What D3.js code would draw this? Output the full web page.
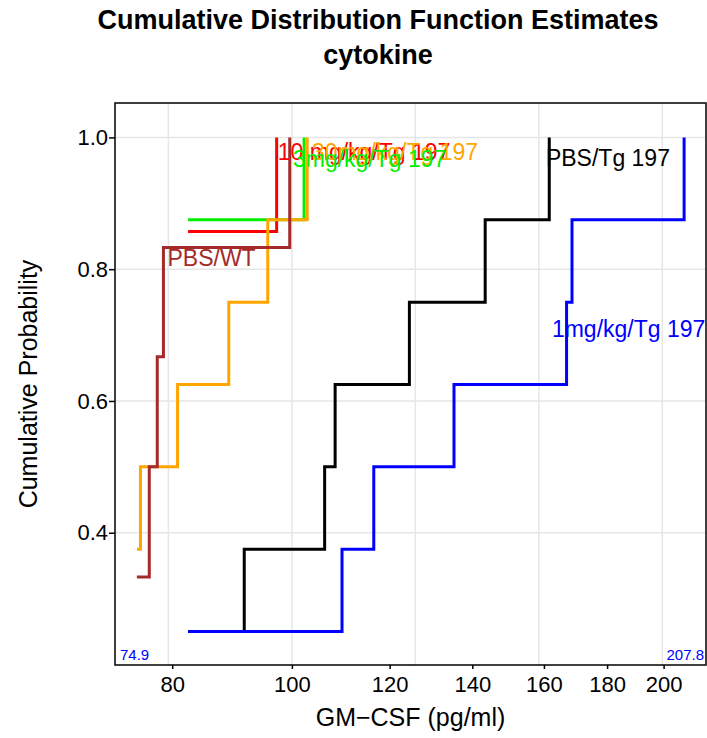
<!DOCTYPE html>
<html>
<head>
<meta charset="utf-8">
<script src="https://cdn.jsdelivr.net/npm/d3@7"></script>
<style>
  body { margin: 0; background: #fff; }
  svg { display: block; font-family: "Liberation Sans", Arial, sans-serif; }
</style>
</head>
<body>
<svg id="chart"></svg>
<script>
// Data (GM-CSF in pg/ml, cumulative probability)
const groups = ["PBS/Tg 197", "1mg/kg/Tg 197", "3mg/kg/Tg 197", "10 mg/kg/Tg 197", "30mg/kg/Tg 197", "PBS/WT"];
const colors = ["black", "blue", "#00ee00", "red", "orange", "brown"];

const pbsTgX = [82.4, 91.5, 106.3, 108.4, 124.5, 143.4, 161.6];
const pbsTgP = [0.25, 0.375, 0.5, 0.625, 0.75, 0.875, 1.0];
const mg1X = [82.4, 109.8, 116.5, 135.3, 166.9, 168.6, 207.8];
const mg1P = [0.25, 0.375, 0.5, 0.625, 0.75, 0.875, 1.0];
const mg3X = [82.4, 102.3];
const mg3P = [0.875, 1.0];
const mg10X = [82.4, 97.2];
const mg10P = [0.857, 1.0];
const mg30X = [74.9, 75.4, 80.8, 88.9, 95.6, 102.9];
const mg30P = [0.375, 0.5, 0.625, 0.75, 0.875, 1.0];
const pbsWtX = [74.9, 76.65, 77.8, 78.7, 99.6];
const pbsWtP = [0.333, 0.5, 0.667, 0.833, 1.0];

const xTicks = [80, 100, 120, 140, 160, 180, 200];
const yTicks = [0.4, 0.6, 0.8, 1.0];
const xRange = [74.9, 207.8];

// label anchors (data units) for each curve label
const labelX = [160.6, 162.4, 100.2, 97.4, 103.8, 79.3];
const labelY = [0.956, 0.697, 0.955, 0.966, 0.966, 0.805];

const seriesX = [pbsTgX, mg1X, mg3X, mg10X, mg30X, pbsWtX];
const seriesP = [pbsTgP, mg1P, mg3P, mg10P, mg30P, pbsWtP];

// Chart dimensions
const Width = 707, Height = 738;
const mLeft = 115, mRight = 706, mTop = 103, mBottom = 665;

const svg = d3.select("#chart").attr("width", Width).attr("height", Height);

// log axis padded 4% like R
const lo = Math.log10(xRange[0]), hi = Math.log10(xRange[1]);
const pad = (hi - lo) * 0.04;
const xScale = d3.scaleLog()
  .domain([Math.pow(10, lo - pad), Math.pow(10, hi + pad)])
  .range([mLeft, mRight]);

const yScale = d3.scaleLinear()
  .domain([0.1993, 1.0522])
  .range([mBottom, mTop]);

// grid
const gridX = [1.9, 2.0, 2.1, 2.2, 2.3].map(e => Math.pow(10, e));
svg.append("g").selectAll("line")
  .data(gridX).enter().append("line")
  .attr("x1", d => xScale(d)).attr("x2", d => xScale(d))
  .attr("y1", mTop).attr("y2", mBottom)
  .attr("stroke", "#e6e6e6").attr("stroke-width", 1.5);
svg.append("g").selectAll("line")
  .data(yTicks).enter().append("line")
  .attr("x1", mLeft).attr("x2", mRight)
  .attr("y1", d => yScale(d)).attr("y2", d => yScale(d))
  .attr("stroke", "#e6e6e6").attr("stroke-width", 1.5);

// step curves
const line = d3.line()
  .x(d => xScale(d[0]))
  .y(d => yScale(d[1]))
  .curve(d3.curveStepAfter);

groups.forEach((g, i) => {
  const pts = seriesX[i].map((x, j) => [x, seriesP[i][j]]);
  svg.append("path")
    .datum(pts)
    .attr("d", line)
    .attr("fill", "none")
    .attr("stroke", colors[i])
    .attr("stroke-width", 3);
});

// curve labels (they overlap in the original too)
const labelOrder = [0, 1, 3, 4, 2, 5];
labelOrder.forEach(i => {
  svg.append("text")
    .attr("x", xScale(labelX[i]))
    .attr("y", yScale(labelY[i]))
    .attr("fill", colors[i])
    .attr("font-size", 23)
    .text(groups[i]);
});

// range labels in the corners
svg.append("text")
  .attr("x", mLeft + 5).attr("y", mBottom - 5)
  .attr("fill", "blue").attr("font-size", 15)
  .text(xRange[0].toFixed(1));
svg.append("text")
  .attr("x", mRight - 2).attr("y", mBottom - 5)
  .attr("text-anchor", "end")
  .attr("fill", "blue").attr("font-size", 15)
  .text(xRange[1].toFixed(1));

// axes
const xAxis = d3.axisBottom(xScale)
  .tickValues(xTicks)
  .tickFormat(d3.format("d"))
  .tickSizeInner(4).tickSizeOuter(0);
const gx = svg.append("g")
  .attr("transform", `translate(0,${mBottom})`)
  .call(xAxis);
gx.select(".domain").remove();
gx.selectAll("line").attr("stroke-width", 1.5);
gx.selectAll("text").attr("font-size", 22).attr("fill", "black")
  .attr("font-family", "Liberation Sans, Arial, sans-serif").attr("dy", "0.9em");

const yAxis = d3.axisLeft(yScale)
  .tickValues(yTicks)
  .tickFormat(d3.format(".1f"))
  .tickSizeInner(6).tickSizeOuter(0)
  .tickPadding(1);
const gy = svg.append("g")
  .attr("transform", `translate(${mLeft},0)`)
  .call(yAxis);
gy.select(".domain").remove();
gy.selectAll("line").attr("stroke-width", 1.5);
gy.selectAll("text").attr("font-size", 22).attr("fill", "black")
  .attr("font-family", "Liberation Sans, Arial, sans-serif");

// box
svg.append("rect")
  .attr("x", mLeft).attr("y", mTop)
  .attr("width", mRight - mLeft).attr("height", mBottom - mTop)
  .attr("fill", "none").attr("stroke", "black").attr("stroke-width", 1.5);

// titles
svg.append("text")
  .attr("x", 378).attr("y", 29)
  .attr("text-anchor", "middle")
  .attr("font-size", 27).attr("font-weight", "bold")
  .text("Cumulative Distribution Function Estimates");
svg.append("text")
  .attr("x", 378).attr("y", 64)
  .attr("text-anchor", "middle")
  .attr("font-size", 27).attr("font-weight", "bold")
  .text("cytokine");

svg.append("text")
  .attr("x", (mLeft + mRight) / 2).attr("y", 726)
  .attr("text-anchor", "middle")
  .attr("font-size", 25)
  .text("GM\u2212CSF (pg/ml)");

svg.append("text")
  .attr("transform", `translate(37,${(mTop + mBottom) / 2}) rotate(-90)`)
  .attr("text-anchor", "middle")
  .attr("font-size", 25)
  .text("Cumulative Probability");
</script>
</body>
</html>
